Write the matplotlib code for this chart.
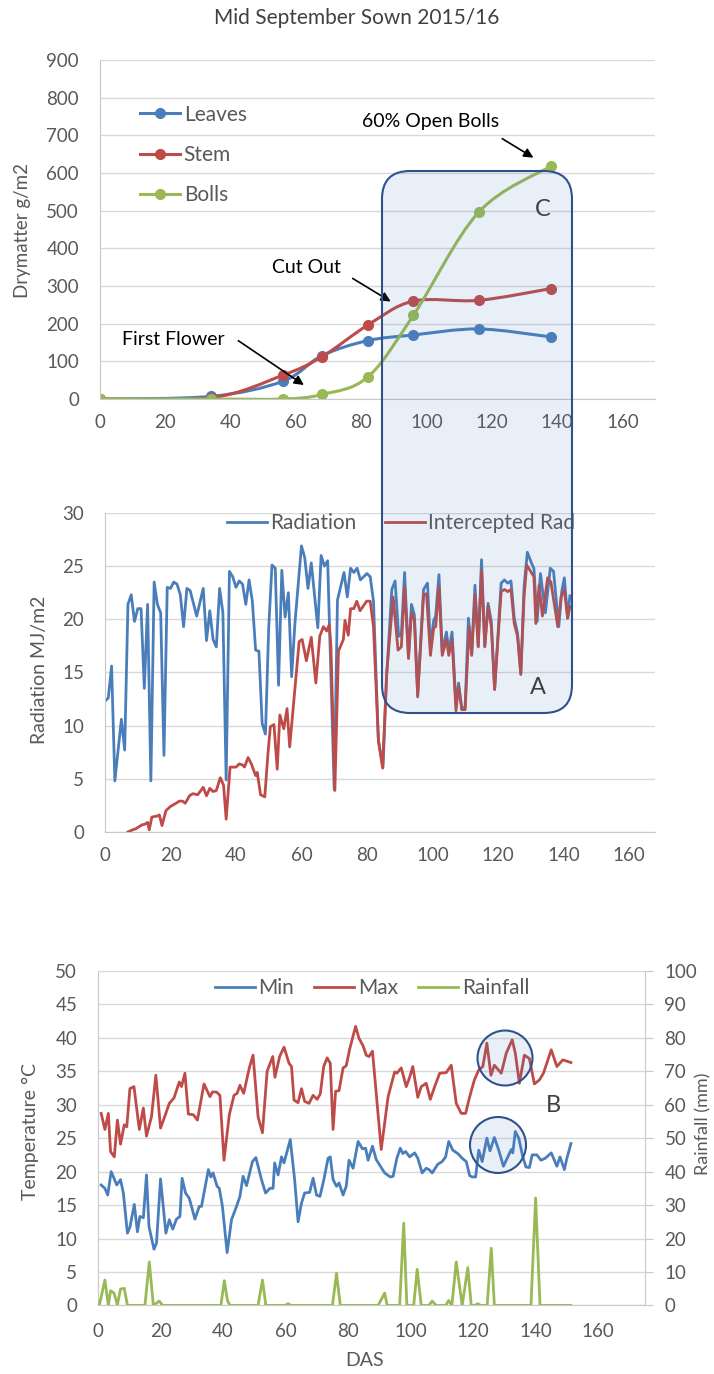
import matplotlib
matplotlib.use("Agg")
import matplotlib.pyplot as plt
from matplotlib.path import Path
from matplotlib.patches import PathPatch, FancyBboxPatch, Circle

plt.rcParams['font.family'] = ['Lato', 'DejaVu Sans']

# ---- Datos: materia seca (g/m2) ----
dias_muestreo = [0, 34, 56, 68, 82, 96, 116, 138]
hojas = [0, 7, 47, 115, 155, 170, 186, 165]
tallo = [0, 3, 63, 112, 196, 260, 262, 293]
capsulas = [0, 0, 0, 12, 58, 222, 496, 618]

# ---- Datos: radiacion (MJ/m2) ----
rad_dias = [0, 1, 2, 3, 5, 6, 7, 8, 9, 10, 11, 12, 13, 14, 15, 16, 17, 18, 19, 20,
            21, 22, 23, 24, 25, 26, 28, 30, 31, 32, 33, 34, 35, 36, 37, 38, 39, 40,
            41, 42, 43, 44, 45, 46, 47, 48, 49, 50, 51, 52, 53, 54, 55, 56, 57, 58,
            60, 61, 62, 63, 65, 66, 67, 68, 70, 71, 73, 74, 75, 76, 77, 78, 80, 81,
            82, 83.5, 84.9, 86, 87.6, 88.6, 89.7, 90.5, 91.5, 92.7, 93.6, 94.5, 95.5,
            97.3, 98.5, 99.4, 100.4, 101, 102, 103, 104.3, 105, 106, 107.2, 108, 109,
            110, 111, 112, 113, 114, 115, 116, 117, 118, 119, 121, 122, 123, 124, 125,
            126, 127, 128, 129, 130.5, 131, 132, 133, 134.5, 136, 137, 138.6, 139.5,
            140.3, 141.3, 142]
radiacion = [12.3, 12.6, 15.6, 4.8, 10.6, 7.7, 21.4, 22.3, 19.8, 21.0, 21.0, 13.5, 21.4,
             4.8, 23.5, 21.4, 20.6, 7.2, 23.0, 22.9, 23.5, 23.3, 22.3, 19.3, 22.9, 22.7,
             20.3, 22.9, 18.0, 20.8, 18.1, 17.4, 22.9, 20.6, 4.9, 24.5, 24.0, 23.0, 23.6,
             23.3, 21.4, 23.7, 21.7, 17.1, 17.0, 10.2, 9.2, 19.2, 25.1, 24.8, 13.8, 24.6,
             20.2, 22.5, 14.6, 19.6, 26.9, 25.8, 22.9, 25.3, 19.2, 26.0, 25.0, 25.5, 4.0,
             21.8, 24.4, 22.1, 24.8, 24.4, 24.8, 23.7, 24.3, 24.0, 21.7, 8.6, 6.1, 14.5,
             22.8, 23.6, 18.4, 18.5, 24.4, 16.5, 21.4, 20.4, 12.9, 22.8, 23.4, 17.4, 19.9,
             20.3, 24.2, 17.0, 18.8, 17.0, 18.8, 12.0, 14.0, 11.5, 11.8, 20.1, 16.8, 23.2,
             17.5, 25.6, 17.5, 21.5, 19.8, 13.4, 23.4, 23.7, 23.4, 23.6, 20.1, 18.7, 14.9,
             23.1, 26.3, 25.1, 24.8, 19.8, 24.3, 20.6, 24.8, 24.5, 19.3, 22.6, 23.9, 20.1,
             22.2]

int_dias = [7, 8.4, 9.4, 10.4, 11.5, 12, 13, 13.5, 14.3, 16, 16.6, 17.4, 18.6, 20, 21.7,
            22.7, 23.7, 24.5, 25.8, 26.8, 28.3, 30, 31, 32, 33, 34, 35.2, 36.2, 37, 38.2,
            39, 40, 41, 42, 42.6, 43.7, 44.7, 46, 46.5, 47.5, 48.8, 49.8, 50.5, 51.6, 52.6,
            53.4, 54.6, 55.6, 56.4, 59.3, 60.2, 61.5, 63, 64.4, 65.6, 66.7, 67.7, 68.5, 69,
            70.2, 71.3, 72.8, 73.3, 74.3, 75, 76, 76.9, 77.9, 79.9, 81, 82, 83.5, 84.8, 86,
            88, 89.5, 90.5, 91.5, 92.7, 93.6, 94.5, 95.5, 97.3, 98.2, 99.4, 100.4, 101, 102,
            103, 104.3, 105, 106, 107.2, 108, 109, 110, 111.2, 112, 113, 114, 115, 116, 117,
            118, 119, 121, 122, 123, 124, 125, 126, 127, 128, 128.8, 130, 131, 131.6, 132.6,
            133.6, 135.2, 136.2, 138.3, 139.3, 140.3, 141.3, 142]
interceptada = [0.0, 0.2, 0.3, 0.5, 0.7, 0.7, 0.9, 0.2, 1.4, 1.5, 1.6, 0.6, 2.0, 2.4, 2.7,
                2.9, 2.9, 2.7, 3.4, 3.6, 3.5, 4.2, 3.4, 4.1, 3.8, 3.9, 5.1, 4.4, 1.2, 6.1,
                6.1, 6.1, 6.4, 6.3, 6.1, 7.0, 6.4, 5.3, 5.6, 3.5, 3.3, 7.5, 9.9, 10.1, 5.9,
                11.0, 9.7, 11.6, 8.0, 17.9, 18.1, 16.1, 18.3, 14.0, 18.4, 19.3, 18.9, 19.5,
                17.4, 3.9, 17.0, 18.1, 19.9, 18.5, 21.0, 21.0, 21.7, 20.8, 21.7, 21.7, 19.3,
                8.6, 6.0, 14.8, 22.1, 17.1, 17.4, 23.1, 16.3, 20.6, 19.9, 12.7, 22.3, 22.4,
                16.6, 19.2, 19.3, 23.1, 16.6, 18.1, 16.6, 18.1, 11.4, 13.7, 11.5, 11.5, 19.3,
                16.6, 22.3, 17.4, 24.6, 17.4, 21.2, 19.3, 13.4, 22.6, 22.8, 22.6, 22.8, 19.6,
                18.4, 14.8, 22.1, 25.1, 24.5, 24.0, 19.6, 23.2, 20.3, 23.9, 23.5, 19.3, 22.1,
                22.8, 20.1, 21.2]

# ---- Datos: temperatura (C) y lluvia (mm) ----
tmax_dias = [1, 2.2, 3.3, 4, 5.2, 6.2, 7.2, 8.4, 9.2, 10.2, 11.5, 13.2, 14.5, 15.5, 17.1,
             18.5, 20, 21.7, 22.8, 24.3, 26, 26.7, 27.8, 28.9, 30.5, 31.8, 33.9, 35.8, 36.6,
             37.9, 39, 40.3, 42, 43.5, 44.5, 45.4, 46.6, 48.4, 49.6, 51.2, 52.6, 54.1, 55.9,
             56.6, 58.1, 59.5, 61.1, 61.9, 62.7, 64, 65.1, 66.1, 67.5, 68.8, 70.1, 71.1,
             72.2, 73.3, 74.3, 75.2, 76, 77.1, 78.4, 79.4, 80.5, 82.4, 83.5, 84.8, 85.8,
             86.7, 87.8, 90.6, 92.8, 94.9, 95.6, 97, 98.6, 99.7, 100.7, 102.3, 103.4, 105,
             106.3, 107.7, 109.3, 111.4, 113, 114.6, 116.2, 117.6, 118.8, 120.4, 121.8,
             123.1, 124.4, 125.7, 126.8, 129, 130.6, 132.5, 133.5, 134.8, 136.4, 138, 139.6,
             141.2, 142.5, 145, 146.8, 148.7, 151.3]
tmax = [28.7, 26.3, 28.7, 23.0, 22.2, 27.7, 24.1, 27.0, 26.7, 32.4, 32.7, 26.3, 29.5, 25.3,
        28.2, 34.4, 26.5, 28.7, 30.2, 31.0, 33.4, 32.7, 34.7, 28.6, 28.5, 27.7, 33.1, 31.2,
        31.9, 31.9, 31.4, 21.7, 28.5, 31.4, 31.7, 32.9, 31.7, 35.5, 37.4, 28.2, 25.8, 35.0,
        37.2, 34.1, 37.2, 38.6, 36.2, 35.7, 30.7, 30.3, 32.4, 30.5, 30.2, 31.4, 30.8, 31.6,
        35.7, 37.0, 36.2, 26.3, 32.0, 32.1, 35.5, 35.8, 38.3, 41.7, 39.9, 38.8, 37.4, 37.2,
        38.0, 23.3, 31.2, 34.9, 34.7, 35.5, 32.7, 34.1, 35.7, 31.1, 32.7, 33.2, 30.8, 32.7,
        34.7, 34.8, 35.9, 30.2, 28.7, 28.7, 31.0, 33.7, 35.2, 35.7, 39.2, 34.4, 35.9, 34.7,
        37.7, 39.7, 37.7, 33.2, 37.4, 36.9, 33.1, 33.7, 34.7, 38.2, 35.7, 36.7, 36.3]

tmin_dias = [1, 2.2, 3.1, 4.2, 5.1, 6, 7.2, 8.1, 9.4, 10.2, 11.6, 12.6, 13.4, 14.5, 15.5,
             16.3, 17.9, 18.7, 20, 21.7, 22.8, 23.9, 25.1, 26.2, 26.9, 28, 29.2, 31, 32.4,
             33.1, 35.3, 36.1, 36.8, 38.1, 38.8, 39.8, 41.3, 42.7, 44.3, 45.4, 46.4, 47.5,
             49.4, 50.5, 52.3, 53.6, 55, 56, 56.5, 57.6, 58.7, 59.5, 61.5, 62.9, 64, 65.1,
             66.1, 67.7, 68.8, 69.9, 71, 72.2, 73.6, 74.3, 75.2, 76.3, 77.1, 78.4, 79.4, 80.3,
             81.6, 83.2, 84.6, 85.6, 86.4, 87.8, 89, 91.7, 93.5, 94.4, 95.6, 96.7, 97.5, 98.4,
             99.7, 101.3, 102.3, 103.7, 105, 105.9, 106.9, 108.7, 110.1, 111.2, 112.2, 113.5,
             115.1, 116.5, 117.8, 118.9, 119.7, 120.8, 121.8, 122.9, 124.4, 125.4, 126.8,
             128.2, 129.7, 131.1, 132.2, 132.7, 133.5, 134.6, 135.9, 136.9, 138, 138.9, 140.4,
             141.7, 143.1, 145, 146.8, 147.8, 149.2, 149.9, 151.3]
tmin = [18.0, 17.5, 16.5, 20.0, 19.0, 18.0, 18.8, 16.8, 10.8, 11.7, 15.1, 11.0, 13.3, 13.1,
        19.5, 11.8, 8.4, 9.3, 18.9, 10.8, 12.8, 11.4, 12.9, 13.3, 19.0, 16.8, 16.0, 12.9,
        14.8, 14.8, 20.3, 19.2, 19.8, 17.8, 17.5, 14.8, 7.9, 12.8, 14.8, 16.3, 19.3, 17.9,
        21.5, 22.1, 18.8, 16.8, 17.5, 17.5, 21.3, 19.5, 22.2, 21.3, 24.8, 18.8, 12.5, 15.3,
        16.8, 16.9, 19.0, 16.5, 16.3, 18.7, 22.0, 22.2, 18.8, 17.8, 18.3, 16.5, 17.8, 21.7,
        20.5, 24.5, 23.4, 23.5, 21.7, 23.8, 21.8, 19.8, 19.2, 19.3, 22.0, 23.5, 22.7, 23.0,
        22.2, 22.8, 22.0, 19.8, 20.5, 20.3, 19.8, 21.1, 21.5, 22.2, 24.5, 23.2, 22.7, 22.0,
        21.5, 19.4, 19.2, 19.2, 23.2, 21.5, 25.0, 23.1, 25.1, 23.2, 20.8, 22.2, 23.3, 22.8,
        26.0, 25.0, 22.2, 20.7, 20.6, 22.5, 22.5, 21.7, 22.0, 22.8, 20.8, 22.2, 20.3, 21.8,
        24.2]

lluvia_dias = [0.4, 2.2, 3.3, 4, 5.1, 6.2, 7.2, 8.4, 9.4, 15, 16.4, 17.7, 19.6, 20.7, 39.3,
               40.4, 41.4, 42.2, 51.2, 52.6, 53.7, 59.8, 60.8, 61.8, 75, 76.3, 77.5, 89.6,
               91.7, 92.5, 96.5, 97.8, 98.8, 101, 102.1, 103.4, 105.8, 106.9, 108.2, 111.2,
               112.2, 113.2, 114.6, 116.5, 118.3, 119.4, 120.5, 121.5, 122.5, 124.5, 125.8,
               126.8, 138.5, 140, 141.4, 151.3]
lluvia = [0, 7.6, 0, 4.4, 3.7, 0.2, 4.9, 5.1, 0, 0, 13.0, 0, 1.3, 0, 0, 7.4, 1.5, 0, 0,
          7.6, 0, 0, 0.5, 0, 0, 9.6, 0, 0, 3.7, 0, 0, 24.6, 0, 0, 10.8, 0, 0, 1.3, 0, 0,
          1.5, 0, 13.0, 0, 11.3, 0, 0, 0.5, 0, 0, 17.1, 0, 0, 32.1, 0, 0]

GRIS = '#595959'
EJE = '#C8C8C8'
REJILLA = '#D9D9D9'
AZUL = '#4A7EBB'
ROJO = '#BE4B48'
VERDE = '#98B954'
W, H = 714, 1374


def curva_suave(x, y):
    # curva tipo Excel (bezier cubica por los puntos)
    pts = list(zip(x, y))
    n = len(pts)
    verts = [pts[0]]
    codes = [Path.MOVETO]
    for i in range(n - 1):
        p0 = pts[i - 1] if i > 0 else pts[i]
        p1 = pts[i]
        p2 = pts[i + 1]
        p3 = pts[i + 2] if i + 2 < n else pts[i + 1]
        c1 = (p1[0] + (p2[0] - p0[0]) / 6, p1[1] + (p2[1] - p0[1]) / 6)
        c2 = (p2[0] - (p3[0] - p1[0]) / 6, p2[1] - (p3[1] - p1[1]) / 6)
        verts += [c1, c2, p2]
        codes += [Path.CURVE4] * 3
    return Path(verts, codes)


def estilo(ax):
    ax.set_axisbelow(True)
    ax.grid(axis='y', color=REJILLA, lw=1)
    for lado in ['top', 'right']:
        ax.spines[lado].set_visible(False)
    for lado in ['left', 'bottom']:
        ax.spines[lado].set_color(EJE)
    ax.tick_params(length=0, labelsize=13.5, colors=GRIS)
    ax.tick_params(axis='y', pad=15)
    ax.tick_params(axis='x', pad=11)


def rotulo(px, py, texto, **kw):
    # texto de eje situado en pixeles de la figura
    fig.text(px / W, 1 - py / H, texto, ha='center', va='center', color=GRIS, **kw)


fig = plt.figure(figsize=(W / 100, H / 100), dpi=100)
fig.text(0.5, 1 - 18 / H, 'Mid September Sown 2015/16', ha='center', va='center',
         fontsize=15, color='#404040')

leyenda = dict(frameon=False, fontsize=15, labelcolor=GRIS, handlelength=1.92,
               handletextpad=0.18, borderpad=0, borderaxespad=0,
               bbox_transform=fig.transFigure)

# ---- Panel 1 ----
ax1 = fig.add_axes([0.1398, 0.7096, 0.7776, 0.2467])
estilo(ax1)
for datos, color, nombre in [(hojas, AZUL, 'Leaves'), (tallo, ROJO, 'Stem'),
                             (capsulas, VERDE, 'Bolls')]:
    ax1.add_patch(PathPatch(curva_suave(dias_muestreo, datos), fc='none', ec=color, lw=2.2))
    ax1.plot(dias_muestreo, datos, 'o', color=color, ms=7)
    ax1.plot([], [], '-o', color=color, lw=2.2, ms=7, label=nombre)
ax1.set_xlim(0, 170)
ax1.set_ylim(0, 900)
ax1.set_xticks(range(0, 161, 20))
ax1.set_yticks(range(0, 901, 100))
rotulo(23, 230, 'Drymatter g/m2', fontsize=13.5, rotation=90)
ax1.legend(loc='center left', bbox_to_anchor=(140 / W, 1 - 155 / H), labelspacing=0.97,
           **leyenda)

flecha = dict(arrowstyle='-|>', color='black', lw=1.2, mutation_scale=14)
ax1.text(101.3, 736, '60% Open Bolls', ha='center', va='center', fontsize=14)
ax1.annotate('', xy=(133.5, 637), xytext=(122.5, 695), arrowprops=flecha)
ax1.text(63.4, 348, 'Cut Out', ha='center', va='center', fontsize=14)
ax1.annotate('', xy=(89.8, 255), xytext=(76.7, 324), arrowprops=flecha)
ax1.text(22.5, 159, 'First Flower', ha='center', va='center', fontsize=14)
ax1.annotate('', xy=(63.2, 33), xytext=(41.7, 159), arrowprops=flecha)

# ---- Panel 2 ----
ax2 = fig.add_axes([0.1471, 0.3945, 0.7703, 0.2322])
estilo(ax2)
ax2.plot(rad_dias, radiacion, color=AZUL, lw=2, label='Radiation')
ax2.plot(int_dias, interceptada, color=ROJO, lw=2, label='Intercepted Rad')
ax2.set_xlim(0, 168)
ax2.set_ylim(0, 30)
ax2.set_xticks(range(0, 161, 20))
ax2.set_yticks(range(0, 31, 5))
rotulo(40, 670, 'Radiation MJ/m2', fontsize=14, rotation=90)
ax2.legend(loc='center', bbox_to_anchor=(401 / W, 1 - 523 / H), ncol=2,
           columnspacing=1.35, **leyenda)

# ---- Panel 3 ----
ax3 = fig.add_axes([0.1373, 0.0499, 0.7661, 0.2435])
estilo(ax3)
ax3.tick_params(axis='x', pad=13)
l_min, = ax3.plot(tmin_dias, tmin, color=AZUL, lw=2, label='Min')
l_max, = ax3.plot(tmax_dias, tmax, color=ROJO, lw=2, label='Max')
ax3.set_xlim(0, 175)
ax3.set_ylim(0, 50)
ax3.set_xticks(range(0, 161, 20))
ax3.set_yticks(range(0, 51, 5))
rotulo(30, 1132, 'Temperature °C', fontsize=14, rotation=90)
rotulo(365, 1361, 'DAS', fontsize=14)

ax3b = ax3.twinx()
l_lluvia, = ax3b.plot(lluvia_dias, lluvia, color=VERDE, lw=2, label='Rainfall')
ax3b.set_ylim(0, 100)
ax3b.set_yticks(range(0, 101, 10))
for lado in ['top', 'left', 'bottom']:
    ax3b.spines[lado].set_visible(False)
ax3b.spines['right'].set_color(EJE)
ax3b.tick_params(axis='y', length=6, color=EJE, labelsize=13.5, labelcolor=GRIS, pad=8)
rotulo(703, 1124, 'Rainfall (mm)', fontsize=13, rotation=90)
ax3.legend(handles=[l_min, l_max, l_lluvia], loc='center',
           bbox_to_anchor=(372 / W, 1 - 988 / H), ncol=3, columnspacing=0.96, **leyenda)

# ---- Capa de formas (pixeles) ----
capa = fig.add_axes([0, 0, 1, 1], zorder=10)
capa.set_xlim(0, W)
capa.set_ylim(H, 0)
capa.axis('off')
relleno = (0.31, 0.51, 0.74, 0.12)
borde = '#2F528F'
capa.add_patch(FancyBboxPatch((382, 171), 190, 542, boxstyle='round,pad=0,rounding_size=28',
                              fc=relleno, ec=borde, lw=1.5))
capa.add_patch(Circle((505, 1058), 27.5, fc=relleno, ec=borde, lw=1.5))
capa.add_patch(Circle((498, 1145), 28, fc=relleno, ec=borde, lw=1.5))
capa.text(543, 210, 'C', ha='center', va='center', fontsize=17, color='#404040')
capa.text(538, 688, 'A', ha='center', va='center', fontsize=17, color='#404040')
capa.text(553, 1106, 'B', ha='center', va='center', fontsize=17, color='#404040')

fig.savefig('out.png', dpi=100)
